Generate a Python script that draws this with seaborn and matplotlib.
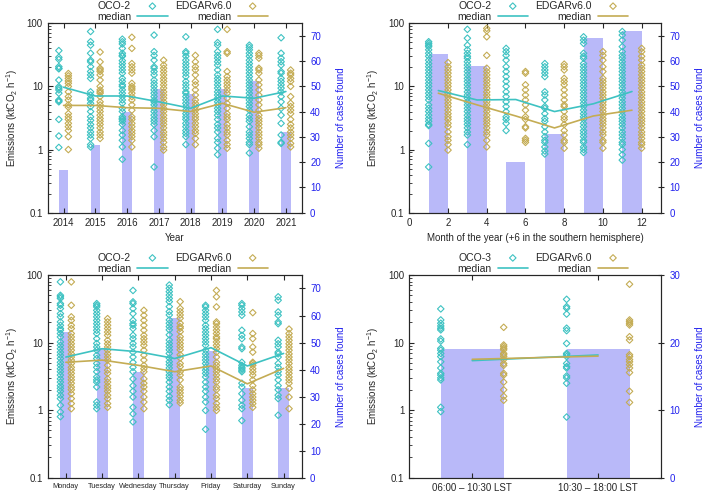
import numpy as np
import pandas as pd
import matplotlib
matplotlib.use("Agg")
import matplotlib.pyplot as plt
import seaborn as sns

CYAN = "#3ec2c2"
GOLD = "#c4ac54"
BAR = "#b9b9f9"
BLUE = "#2222ee"

# ---- panel a: by year ----
years = [2014, 2015, 2016, 2017, 2018, 2019, 2020, 2021]
cases_year = [17, 27, 40, 49, 47, 49, 52, 32]
oco2_year = [
    [36.9, 28.9, 26.8, 20.6, 19.4, 19.0, 12.6, 9.9, 9.4, 8.8, 7.8, 6.1, 5.9, 5.7, 3.0, 1.64, 1.08],
    [74, 51, 45, 33.5, 26, 24.5, 20.5, 17.2, 15.2, 13.4, 8.2, 7.3, 6.5, 6.1, 5.4, 4.8, 4.0, 3.3,
     2.9, 2.5, 2.2, 1.9, 1.7, 1.5, 1.2, 1.1],
    [56, 51, 47, 40, 33.5, 31, 30, 25.6, 23, 20.5, 18.2, 16.2, 13.4, 12, 10.6, 10, 8.8, 7.8, 6.9,
     6.1, 5.4, 4.5, 4.0, 3.3, 3.1, 3.0, 2.8, 2.5, 2.0, 1.7, 1.4, 1.1, 0.7],
    [65, 35.5, 31, 26, 20.5, 19.4, 17.2, 15.2, 12.6, 11.2, 10, 8.8, 7.8, 6.9, 6.1, 5.7, 5.1, 4.5,
     4.0, 3.5, 3.1, 2.8, 2.5, 2.0, 1.6, 0.53],
    [61, 35.5, 33.5, 30, 26, 23, 20.5, 18.2, 16.2, 14.3, 12, 10.6, 9.4, 8.2, 7.8, 6.9, 6.1, 5.4,
     4.8, 4.2, 3.7, 3.3, 3.0, 2.6, 2.3, 2.0, 1.8, 1.6, 1.2],
    [80, 49.4, 45, 35.5, 31, 28, 24.6, 21.8, 18.2, 15.2, 13.4, 12, 10.6, 9.4, 8.2, 7.3, 6.5, 5.7,
     5.1, 4.5, 4.0, 3.5, 3.0, 2.5, 2.2, 1.9, 1.5, 1.3, 1.05, 0.83],
    [45, 41.6, 38, 33.5, 30, 26, 23, 20.5, 18.2, 16.2, 14.3, 12.6, 11.2, 10, 8.8, 7.8, 6.9, 6.1,
     5.4, 4.8, 4.2, 3.5, 3.1, 2.8, 2.3, 1.9, 1.7, 1.5, 1.3, 1.2, 0.88],
    [59, 33.5, 28, 24.6, 21.8, 17.2, 16.2, 13.4, 12, 10.6, 9.4, 8.2, 6.9, 5.7, 4.5, 3.5, 2.6,
     1.7, 1.3, 1.25],
]
edgar_year = [
    [16, 14.7, 13.4, 12.2, 11.2, 10, 8.2, 6.9, 6.1, 5.1, 4.7, 3.7, 3.3, 3.0, 2.6, 2.3, 2.0, 1.6, 1.0],
    [35, 24.5, 19.4, 18.3, 17.2, 15.2, 12.6, 10, 8.8, 8.2, 7.8, 6.9, 5.7, 5.1, 4.5, 4.0, 3.5,
     3.1, 2.8, 2.5, 2.2, 1.9, 1.7, 1.5],
    [60, 40, 23, 20.5, 18.2, 16.2, 11.2, 10, 9.4, 8.8, 7.8, 6.9, 6.1, 5.1, 4.2, 3.3, 3.0, 2.6,
     2.3, 2.0, 1.8, 1.6, 1.4, 1.1],
    [26, 21.8, 19.4, 17.2, 15.2, 13.4, 12, 10.6, 9.4, 8.2, 7.3, 6.5, 5.7, 5.1, 4.5, 4.0, 3.5,
     3.1, 2.8, 2.5, 2.2, 1.9, 1.7, 1.5, 1.3, 1.1, 0.98],
    [31, 24.5, 20.5, 18.2, 15.2, 12, 10.6, 8.8, 7.3, 6.1, 5.4, 4.8, 4.2, 3.7, 3.3, 3.0, 2.6,
     2.3, 2.0, 1.8, 1.5, 1.2],
    [80, 35.5, 33.5, 17.2, 14.3, 12.6, 11.2, 10, 8.8, 7.8, 6.5, 5.4, 4.5, 3.7, 3.3, 3.0, 2.5,
     2.2, 1.9, 1.7, 1.4, 1.2, 1.05],
    [33.5, 31, 28, 19.4, 18.2, 16.2, 12.6, 10.6, 8.8, 7.3, 6.1, 5.1, 4.2, 3.5, 3.1, 2.8, 2.5,
     2.2, 1.9, 1.7, 1.5, 1.3, 1.2, 1.05],
    [18.2, 16.2, 15.2, 13.4, 12, 10, 6.9, 5.4, 4.8, 4.2, 3.7, 3.0, 2.5, 2.2, 1.9, 1.7, 1.5,
     1.25, 1.1],
]
oco2_med_year = [9.7, 7.05, 7.05, 5.7, 4.5, 7.05, 6.5, 8.3]
edgar_med_year = [5.0, 5.0, 4.6, 4.5, 4.0, 5.4, 3.9, 4.6]

# ---- panel b: by month (pairs of months) ----
month_centres = [1.5, 3.5, 5.5, 7.5, 9.5, 11.5]
cases_month = [63, 58, 20, 31, 69, 72]
oco2_month = [
    [51, 48, 45, 42.6, 38, 33.5, 30, 26, 23, 20.5, 18.2, 16.2, 14.3, 12.6, 11.2, 10, 8.8, 7.8,
     6.9, 6.1, 5.1, 4.5, 4.0, 3.5, 3.1, 2.8, 2.5, 2.4, 1.25, 0.53],
    [80, 58, 45, 38, 33.5, 30, 28, 24.6, 21.8, 19.4, 17.2, 15.2, 13.4, 12, 10.6, 9.4, 8.2, 7.3,
     6.5, 5.7, 5.1, 4.5, 4.0, 3.5, 3.1, 2.8, 2.5, 2.2, 1.9, 1.7, 1.2],
    [40, 35.5, 31, 26, 20.5, 17.2, 14.3, 12, 10, 8.2, 6.9, 5.7, 4.8, 4.0, 3.3, 3.0, 2.6, 2.0],
    [23, 20.5, 18.2, 16.2, 14.3, 8.2, 7.3, 6.1, 4.8, 4.5, 3.7, 3.1, 2.8, 2.3, 1.9, 1.6, 1.4,
     1.3, 1.1, 0.95, 0.85],
    [61, 54, 48, 33.5, 30, 28, 23, 20.5, 18.2, 16.2, 14.3, 12.6, 11.2, 10, 8.8, 7.8, 6.9, 6.1,
     5.4, 4.8, 4.2, 3.7, 3.3, 3.0, 2.6, 2.3, 2.0, 1.8, 1.6, 1.4, 1.3, 1.1, 1.0, 0.9],
    [74, 65, 54, 42.6, 35.5, 31, 28, 24.6, 21.8, 19.4, 17.2, 15.2, 13.4, 12, 10.6, 9.4, 8.2,
     7.3, 6.5, 5.7, 5.1, 4.5, 4.0, 3.5, 3.1, 2.8, 2.5, 2.2, 1.9, 1.7, 1.5, 1.3, 1.2, 1.0, 0.83, 0.68],
]
edgar_month = [
    [23.8, 20.5, 18.2, 16.2, 14.3, 12.6, 11.2, 10, 8.8, 7.8, 6.9, 6.1, 5.4, 4.8, 4.2, 3.7, 3.3,
     3.0, 2.6, 2.3, 1.9, 1.6, 1.4, 1.2, 0.98],
    [83, 76, 61, 31, 19.4, 17.2, 15.2, 13.4, 12, 10.6, 9.4, 8.2, 7.3, 6.5, 5.7, 5.1, 4.5, 4.0,
     3.5, 3.1, 2.8, 2.5, 2.2, 1.9, 1.7, 1.4, 1.1],
    [17.2, 16.2, 10.6, 8.8, 7.3, 6.1, 5.1, 4.2, 3.3, 3.0, 2.3, 2.2, 1.5, 1.4, 1.3],
    [22.5, 20.5, 18.2, 13.4, 12, 10.6, 8.8, 7.3, 6.1, 5.1, 4.8, 4.0, 3.3, 3.0, 2.5, 2.0, 1.7,
     1.4, 1.3, 1.05],
    [35.5, 31, 26, 20.5, 17.2, 13.4, 12, 10.6, 9.4, 8.2, 7.3, 6.5, 5.7, 5.1, 4.5, 4.0, 3.5, 3.1,
     2.8, 2.5, 2.2, 1.9, 1.7, 1.4, 1.3, 1.05],
    [40, 35.5, 30, 26, 21.8, 19.4, 17.2, 15.2, 13.4, 12, 10.6, 9.4, 8.2, 7.3, 6.5, 5.7, 5.1, 4.5,
     4.0, 3.5, 3.1, 2.8, 2.5, 2.2, 1.9, 1.7, 1.5, 1.3, 1.2, 1.05],
]
oco2_med_month = [8.6, 6.1, 6.2, 4.0, 5.3, 8.3]
edgar_med_month = [7.8, 5.1, 3.4, 2.2, 3.4, 4.2]

# ---- panel c: by weekday ----
days = ["Monday", "Tuesday", "Wednesday", "Thursday", "Friday", "Saturday", "Sunday"]
cases_day = [54, 48, 39, 59, 47, 33, 33]
oco2_day = [
    [79, 50, 47.5, 45, 37.7, 35.6, 31.8, 26.8, 24, 20.2, 18, 16.1, 15.2, 13.6, 12.1, 10.2, 9.1,
     8.1, 7.2, 6.5, 5.8, 5.1, 4.6, 4.1, 3.7, 3.3, 2.9, 2.6, 2.3, 2.1, 1.9, 1.66, 1.48, 1.18, 0.94, 0.8],
    [37.7, 35.6, 33.7, 30, 26.8, 24, 21.3, 19, 17, 15.2, 13.6, 11.4, 9.7, 8.6, 7.7, 6.5, 5.8,
     4.9, 4.3, 3.7, 3.1, 2.8, 2.6, 2.2, 1.32, 1.18, 1.05],
    [59, 40, 37.7, 31.8, 26.8, 21.3, 19, 18, 16.1, 12.8, 11.4, 9.7, 8.6, 7.2, 6.1, 5.1, 4.3,
     3.7, 2.9, 2.3, 1.9, 1.56, 1.1, 0.88, 0.67],
    [71, 63.5, 56.6, 50.5, 45, 40.3, 34, 28.7, 25.6, 21.6, 19.3, 17.2, 15.4, 13, 10.9, 9.7, 8.7,
     7.8, 6.9, 5.9, 5.2, 4.7, 4.2, 3.7, 3.3, 3.0, 2.6, 2.2, 1.9, 1.6, 1.4, 1.2],
    [35.6, 33.7, 30, 26.8, 24, 21.3, 18, 16.1, 14.3, 12.8, 11.4, 10.2, 9.1, 7.7, 6.8, 6.1, 5.5,
     4.9, 4.3, 3.9, 3.5, 3.1, 2.6, 2.2, 1.9, 1.56, 1.32, 0.99, 0.52],
    [37.7, 35.6, 31.8, 28.4, 25.3, 15.2, 12.8, 11.4, 8.6, 8.1, 5.1, 4.6, 4.3, 4.1, 3.9, 3.7,
     2.5, 2.2, 1.75, 1.4, 1.18, 1.05, 0.7],
    [47.5, 42.3, 28.4, 25.3, 20.2, 19, 10.8, 9.6, 8.6, 7.2, 6.8, 6.1, 4.9, 4.3, 3.7, 3.3, 2.8,
     2.3, 2.0, 1.66, 1.48, 0.84],
]
edgar_day = [
    [79, 35.6, 24, 21.3, 18, 16.1, 13.6, 12.1, 10.8, 9.6, 8.6, 7.7, 6.8, 6.1, 5.5, 4.9, 4.3,
     3.9, 3.5, 3.1, 2.8, 2.5, 2.2, 2.0, 1.75, 1.48, 1.25, 1.05],
    [22.6, 20.2, 18, 16.1, 14.3, 12.8, 10.8, 9.6, 8.6, 7.7, 6.8, 6.1, 5.5, 4.6, 3.9, 3.5, 2.9,
     2.6, 2.3, 2.1, 1.9, 1.66, 1.48, 1.25, 1.1],
    [30, 25.3, 21.3, 18, 15.2, 12.8, 11.4, 10.2, 9.1, 7.7, 6.5, 5.5, 4.6, 4.1, 3.7, 2.9, 2.5,
     2.2, 1.9, 1.56, 1.32, 1.05],
    [40.3, 32, 28.7, 25.6, 22.9, 19.3, 17.2, 16.3, 14.5, 12.2, 10.9, 9.7, 8.7, 7.8, 6.6, 5.9,
     4.9, 4.4, 3.7, 3.3, 2.8, 2.2, 2.0, 1.8, 1.6, 1.4, 1.28],
    [59, 47.5, 33.7, 20.2, 19, 17, 15.2, 13.6, 12.1, 11.4, 10.2, 9.1, 8.1, 7.2, 6.1, 5.1, 4.6,
     4.1, 3.7, 3.3, 2.9, 2.6, 2.2, 2.0, 1.66, 1.48, 1.25, 1.1, 0.99],
    [27.7, 13.6, 11.4, 8.6, 7.2, 5.1, 4.9, 4.6, 4.1, 3.7, 3.3, 2.8, 2.3, 2.0, 1.75, 1.56, 1.4,
     1.25, 1.1],
    [15.8, 13.6, 12.1, 10.8, 9.6, 8.6, 7.7, 6.8, 6.1, 5.5, 4.9, 4.3, 3.9, 3.5, 3.1, 2.8, 2.5,
     2.1, 1.56, 1.05],
]
oco2_med_day = [6.1, 8.1, 7.3, 5.8, 8.4, 4.5, 6.9]
edgar_med_day = [5.1, 5.5, 4.6, 3.7, 4.5, 2.45, 4.15]

# ---- panel d: OCO-3 by local time window ----
windows = ["06:00 \u2013 10:30 LST", "10:30 \u2013 18:00 LST"]
cases_window = [19, 19]
oco3_window = [
    [31.5, 21.6, 19.3, 17.6, 16.3, 15.4, 11.3, 10.5, 8.2, 7.7, 6.9, 6.2, 5.2, 4.2, 3.5, 3.3,
     3.0, 2.8, 1.1, 0.95],
    [43.6, 34, 32.1, 26.4, 16.3, 15.0, 9.7, 6.9, 6.6, 6.2, 4.9, 4.4, 4.2, 3.2, 3.0, 2.5, 0.79],
]
edgar_window = [
    [16.8, 9.2, 8.7, 8.2, 7.8, 6.9, 6.6, 6.2, 5.6, 4.9, 4.6, 3.5, 3.3, 2.6, 2.0, 1.6, 1.4],
    [73, 21.6, 20.4, 19.3, 18.2, 12.2, 10.9, 6.6, 6.2, 5.6, 5.2, 4.7, 4.2, 3.6, 1.9, 1.3],
]
oco3_med_window = [5.4, 6.55]
edgar_med_window = [5.65, 6.3]

sns.set_style("ticks")
plt.rcParams["font.family"] = ["Liberation Sans", "DejaVu Sans"]
plt.rcParams["mathtext.default"] = "regular"
plt.rcParams["font.size"] = 7

FS = 7


def long_form(pos, groups, shift):
    rows = []
    for p, vals in zip(pos, groups):
        for v in vals:
            rows.append({"x": p + shift, "v": v})
    return pd.DataFrame(rows)


def draw_panel(rect, pos, cases, oco, edgar, med_oco, med_edgar, width, half,
               case_max, sat_name):
    ax = fig.add_axes(rect)
    ax2 = ax.twinx()
    sns.barplot(x=pos, y=cases, ax=ax2, native_scale=True, width=width, color=BAR,
                saturation=1, errorbar=None, linewidth=0)
    ax.set_zorder(ax2.get_zorder() + 1)
    ax.patch.set_visible(False)

    sns.scatterplot(data=long_form(pos, oco, -half), x="x", y="v", ax=ax, marker="D", s=11,
                    color=CYAN, facecolor="none", edgecolor=CYAN, linewidth=0.8, label=sat_name)
    sns.scatterplot(data=long_form(pos, edgar, half), x="x", y="v", ax=ax, marker="D", s=11,
                    color=GOLD, facecolor="none", edgecolor=GOLD, linewidth=0.8, label="EDGARv6.0")
    sns.lineplot(x=pos, y=med_oco, ax=ax, color=CYAN, lw=1.2, sort=False, estimator=None,
                 label="median")
    sns.lineplot(x=pos, y=med_edgar, ax=ax, color=GOLD, lw=1.2, sort=False, estimator=None,
                 label="median")

    ax.set_yscale("log")
    ax.set_ylim(0.1, 100)
    ax.set_yticks([0.1, 1, 10, 100], labels=["0.1", "1", "10", "100"])
    ax.set_ylabel("Emissions (ktCO$_2$ h$^{-1}$)", fontsize=FS, labelpad=5)
    ax.set_xlabel("")
    ax.tick_params(axis="both", which="both", direction="in", top=True, labelsize=FS)
    ax.tick_params(axis="y", which="both", right=False)

    ax2.set_ylim(0, case_max)
    ax2.set_yticks(np.arange(0, case_max + 1, 10))
    ax2.tick_params(axis="y", direction="inout", labelcolor=BLUE, labelsize=FS, length=5)
    ax2.set_ylabel("Number of cases found", color=BLUE, fontsize=FS, labelpad=11)
    for sp in ax2.spines.values():
        sp.set_linewidth(0.8)
    for sp in ax.spines.values():
        sp.set_linewidth(0.8)

    h, l = ax.get_legend_handles_labels()
    order = [0, 2, 1, 3]
    ax.legend([h[i] for i in order], [l[i] for i in order], ncol=2, loc="lower center",
              bbox_to_anchor=(0.53, 0.995), frameon=False, markerfirst=False,
              handlelength=2.9, handletextpad=0.6, columnspacing=0.7, labelspacing=0.12,
              borderaxespad=0.1, borderpad=0.1, fontsize=7.5)
    return ax


fig = plt.figure(figsize=(7.09, 4.92), dpi=100)

ax_a = draw_panel([0.0673, 0.5677, 0.3583, 0.385], years, cases_year, oco2_year, edgar_year,
                  oco2_med_year, edgar_med_year, 0.3, 0.15, 75, "OCO-2")
ax_a.set_xlim(2013.5, 2021.5)
ax_a.set_xticks(years, labels=[str(y) for y in years])
ax_a.set_xlabel("Year", fontsize=FS)

ax_b = draw_panel([0.5773, 0.5677, 0.355, 0.385], month_centres, cases_month, oco2_month,
                  edgar_month, oco2_med_month, edgar_med_month, 0.5, 0.5, 75, "OCO-2")
ax_b.set_xlim(0, 13)
ax_b.set_xticks(range(0, 13, 2), labels=[str(m) for m in range(0, 13, 2)])
ax_b.set_xlabel("Month of the year (+6 in the southern hemisphere)", fontsize=FS)

day_pos = list(range(len(days)))
ax_c = draw_panel([0.0673, 0.0291, 0.3583, 0.412], day_pos, cases_day, oco2_day, edgar_day,
                  oco2_med_day, edgar_med_day, 0.3, 0.15, 75, "OCO-2")
ax_c.set_xlim(-0.5, 6.5)
ax_c.set_xticks(day_pos, labels=days)
ax_c.tick_params(axis="x", labelsize=5.3)

win_pos = [0, 1]
ax_d = draw_panel([0.5773, 0.0291, 0.355, 0.412], win_pos, cases_window, oco3_window,
                  edgar_window, oco3_med_window, edgar_med_window, 0.5, 0.25, 30, "OCO-3")
ax_d.set_xlim(-0.5, 1.5)
ax_d.set_xticks(win_pos, labels=windows)

fig.savefig("out.png", dpi=100)
